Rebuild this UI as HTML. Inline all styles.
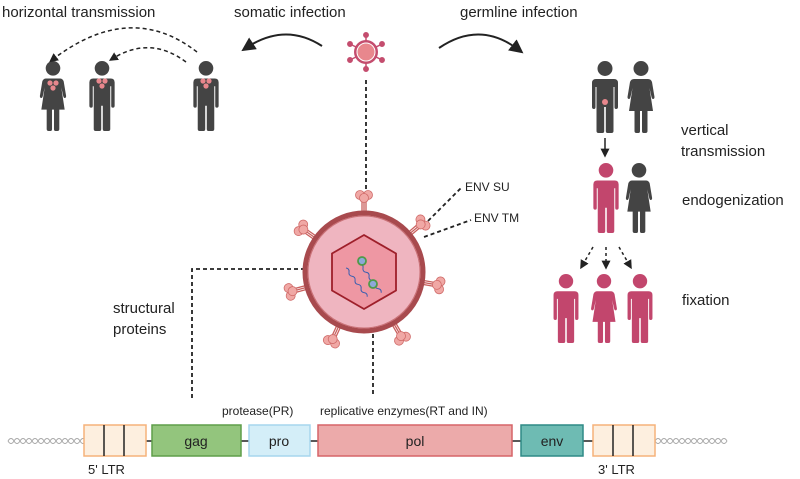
<!DOCTYPE html>
<html><head><meta charset="utf-8"><style>
html,body{margin:0;padding:0;background:#fff;}
svg{display:block;font-family:"Liberation Sans",sans-serif;}
</style></head><body>
<svg width="800" height="479" viewBox="0 0 800 479" xmlns="http://www.w3.org/2000/svg">
<defs>
<symbol id="male" viewBox="-13 0 26 72" overflow="visible">
  <circle cx="0" cy="7.5" r="7.5"/>
  <path d="M-9 18 H9 Q13 18 13 22 V46 Q13 48 11 48 Q9.5 48 9.5 46 V26 H8.5 V70 Q8.5 72 6.5 72 H2.5 Q0.8 72 0.8 70 V46 H-0.8 V70 Q-0.8 72 -2.5 72 H-6.5 Q-8.5 72 -8.5 70 V26 H-9.5 V46 Q-9.5 48 -11 48 Q-13 48 -13 46 V22 Q-13 18 -9 18Z"/>
</symbol>
<symbol id="female" viewBox="-13 0 26 72" overflow="visible">
  <circle cx="0" cy="7.5" r="7.5"/>
  <path d="M-7 18 H7 Q10 18 11 21 L13.5 36 Q13.5 38 12 38 Q11 38 10.5 36 L8.5 27 L12 50 H6.5 V70 Q6.5 72 4.5 72 H2.5 Q1 72 1 70 V50 H-1 V70 Q-1 72 -2.5 72 H-4.5 Q-6.5 72 -6.5 70 V50 H-12 L-8.5 27 L-10.5 36 Q-11 38 -12 38 Q-13.5 38 -13.5 36 L-11 21 Q-10 18 -7 18Z"/>
</symbol>
<marker id="ah" viewBox="0 0 10 10" refX="6" refY="5" markerWidth="7" markerHeight="7" orient="auto-start-reverse"><path d="M0 0 L10 5 L0 10 Z" fill="#222"/></marker>
<marker id="ahs" viewBox="0 0 10 10" refX="6" refY="5" markerWidth="6" markerHeight="6" orient="auto"><path d="M0 0 L10 5 L0 10 Z" fill="#222"/></marker>
<g id="spike">
  <line x1="-2" y1="6" x2="-2" y2="-11" stroke="#c9605e" stroke-width="1.3"/>
  <line x1="2" y1="6" x2="2" y2="-11" stroke="#c9605e" stroke-width="1.3"/>
  <line x1="0" y1="6" x2="0" y2="-11" stroke="#c9605e" stroke-width="1.3"/>
  <circle cx="-4" cy="-15" r="4.5" fill="#f0a8a5" stroke="#d06b69" stroke-width="0.8"/>
  <circle cx="4" cy="-15" r="4.5" fill="#f0a8a5" stroke="#d06b69" stroke-width="0.8"/>
  <circle cx="0" cy="-12" r="4.5" fill="#f0a8a5" stroke="#d06b69" stroke-width="0.8"/>
</g>
</defs>

<g font-size="15" fill="#222">
<text x="2" y="17">horizontal transmission</text>
<text x="234" y="17">somatic infection</text>
<text x="460" y="17">germline infection</text>
<text x="681" y="135">vertical</text>
<text x="681" y="156">transmission</text>
<text x="682" y="205">endogenization</text>
<text x="682" y="305">fixation</text>
<text x="113" y="313">structural</text>
<text x="113" y="334">proteins</text>
</g>
<g font-size="12" fill="#222">
<text x="465" y="191">ENV SU</text>
<text x="474" y="222">ENV TM</text>
<text x="222" y="415">protease(PR)</text>
<text x="320" y="415">replicative enzymes(RT and IN)</text>
<text x="88" y="474" font-size="13">5' LTR</text>
<text x="598" y="474" font-size="13">3' LTR</text>
</g>

<g fill="#444">
<use href="#female" x="40" y="61" width="26" height="70"/>
<use href="#male" x="89" y="61" width="26" height="70"/>
<use href="#male" x="193" y="61" width="26" height="70"/>
</g>
<g fill="#e8878d">
<circle cx="50" cy="83" r="2.6"/><circle cx="56" cy="83" r="2.6"/><circle cx="53" cy="88" r="2.6"/>
<circle cx="99" cy="81" r="2.6"/><circle cx="105" cy="81" r="2.6"/><circle cx="102" cy="86" r="2.6"/>
<circle cx="203" cy="81" r="2.6"/><circle cx="209" cy="81" r="2.6"/><circle cx="206" cy="86" r="2.6"/>
</g>
<g fill="none" stroke="#222" stroke-width="1.5" stroke-dasharray="4,3">
<path d="M197 52 Q130 0 52 60" marker-end="url(#ahs)"/>
<path d="M186 62 Q150 35 112 59" marker-end="url(#ahs)"/>
</g>
<path d="M322 46 Q285 22 246 48" fill="none" stroke="#222" stroke-width="2" marker-end="url(#ah)"/>
<path d="M439 48 Q480 20 519 50" fill="none" stroke="#222" stroke-width="2" marker-end="url(#ah)"/>

<g transform="translate(366,52)">
<g stroke="#c44d6e" stroke-width="1.5" fill="#c44d6e">
<line x1="0" y1="-17" x2="0" y2="17"/><line x1="-16" y1="-8" x2="16" y2="8"/><line x1="-16" y1="8" x2="16" y2="-8"/>
<circle cx="0" cy="-17" r="2.2"/><circle cx="0" cy="17" r="2.2"/><circle cx="-16" cy="-8" r="2.2"/><circle cx="16" cy="8" r="2.2"/><circle cx="-16" cy="8" r="2.2"/><circle cx="16" cy="-8" r="2.2"/>
</g>
<circle r="12" fill="#c44d6e"/><circle r="9" fill="#e8878d" stroke="#fff" stroke-width="1"/>
</g>

<g fill="none" stroke="#222" stroke-width="1.8" stroke-dasharray="4,3">
<line x1="366" y1="80" x2="366" y2="192"/>
<polyline points="333,269 192,269 192,398"/>
<line x1="373" y1="285" x2="373" y2="396"/>
<line x1="428" y1="221" x2="462" y2="187"/>
<line x1="424" y1="237" x2="471" y2="220"/>
</g>

<g transform="translate(364,272)">
<g transform="rotate(0)"><use href="#spike" y="-62"/></g>
<g transform="rotate(50)"><use href="#spike" y="-62"/></g>
<g transform="rotate(100)"><use href="#spike" y="-62"/></g>
<g transform="rotate(150)"><use href="#spike" y="-62"/></g>
<g transform="rotate(205)"><use href="#spike" y="-62"/></g>
<g transform="rotate(255)"><use href="#spike" y="-62"/></g>
<g transform="rotate(305)"><use href="#spike" y="-62"/></g>
<circle r="59" fill="#efb5c0" stroke="#a84a4e" stroke-width="5"/>
<circle r="56" fill="none" stroke="#c97076" stroke-width="1"/>
<polygon points="0,-37 32,-18.5 32,18.5 0,37 -32,18.5 -32,-18.5" fill="#ee97a3" stroke="#9e1f2a" stroke-width="1.8"/>
<path d="M-18 -4 q3 2 1 5 q-2 3 1 5 q3 2 1 5 q-2 3 1 5 q3 2 1 5 q-2 3 1 5 q3 2 1 5" fill="none" stroke="#3a5fb0" stroke-width="1" transform="rotate(-25 -18 -4)"/>
<path d="M-4 -8 q3 2 1 5 q-2 3 1 5 q3 2 1 5 q-2 3 1 5 q3 2 1 5 q-2 3 1 5 q3 2 1 5" fill="none" stroke="#3a5fb0" stroke-width="1" transform="rotate(-25 -4 -8)"/>
<circle cx="-2" cy="-11" r="4" fill="#8da8d8" stroke="#4f9a48" stroke-width="1.8"/>
<circle cx="9" cy="12" r="4" fill="#8da8d8" stroke="#4f9a48" stroke-width="1.8"/>
</g>

<g fill="#444">
<use href="#male" x="592" y="61" width="26" height="72"/>
<use href="#female" x="628" y="61" width="26" height="72"/>
<use href="#female" x="626" y="163" width="26" height="70"/>
</g>
<circle cx="605" cy="102" r="3" fill="#e8878d"/>
<line x1="605" y1="138" x2="605" y2="154" stroke="#222" stroke-width="1.5" marker-end="url(#ahs)"/>
<g fill="#c2466d">
<use href="#male" x="593" y="163" width="26" height="70"/>
<use href="#male" x="553" y="274" width="26" height="69"/>
<use href="#female" x="591" y="274" width="26" height="69"/>
<use href="#male" x="627" y="274" width="26" height="69"/>
</g>
<g fill="none" stroke="#222" stroke-width="1.5" stroke-dasharray="3,3">
<line x1="593" y1="247" x2="582" y2="266" marker-end="url(#ahs)"/>
<line x1="606" y1="247" x2="606" y2="266" marker-end="url(#ahs)"/>
<line x1="619" y1="247" x2="630" y2="266" marker-end="url(#ahs)"/>
</g>

<g fill="none" stroke="#aaa" stroke-width="1">
<path d="M8 441 q3 -5 6 0 q3 5 6 0 q3 -5 6 0 q3 5 6 0 q3 -5 6 0 q3 5 6 0 q3 -5 6 0 q3 5 6 0 q3 -5 6 0 q3 5 6 0 q3 -5 6 0 q3 5 6 0 q3 -5 6 0"/>
<path d="M8 441 q3 5 6 0 q3 -5 6 0 q3 5 6 0 q3 -5 6 0 q3 5 6 0 q3 -5 6 0 q3 5 6 0 q3 -5 6 0 q3 5 6 0 q3 -5 6 0 q3 5 6 0 q3 -5 6 0 q3 5 6 0"/>
<path d="M655 441 q3 -5 6 0 q3 5 6 0 q3 -5 6 0 q3 5 6 0 q3 -5 6 0 q3 5 6 0 q3 -5 6 0 q3 5 6 0 q3 -5 6 0 q3 5 6 0 q3 -5 6 0 q3 5 6 0"/>
<path d="M655 441 q3 5 6 0 q3 -5 6 0 q3 5 6 0 q3 -5 6 0 q3 5 6 0 q3 -5 6 0 q3 5 6 0 q3 -5 6 0 q3 5 6 0 q3 -5 6 0 q3 5 6 0 q3 -5 6 0"/>
</g>
<line x1="146" y1="441" x2="593" y2="441" stroke="#222" stroke-width="1.5"/>
<rect x="84" y="425" width="62" height="31" fill="#fdefdf" stroke="#f5b27a" stroke-width="1.5"/>
<line x1="104" y1="425" x2="104" y2="456" stroke="#222" stroke-width="1.5"/><line x1="124" y1="425" x2="124" y2="456" stroke="#222" stroke-width="1.5"/>
<rect x="593" y="425" width="62" height="31" fill="#fdefdf" stroke="#f5b27a" stroke-width="1.5"/>
<line x1="613" y1="425" x2="613" y2="456" stroke="#222" stroke-width="1.5"/><line x1="633" y1="425" x2="633" y2="456" stroke="#222" stroke-width="1.5"/>
<rect x="152" y="425" width="89" height="31" fill="#93c57d" stroke="#5f9e4a" stroke-width="1.5"/>
<rect x="249" y="425" width="61" height="31" fill="#d4eef8" stroke="#a6d6ee" stroke-width="1.5"/>
<rect x="318" y="425" width="194" height="31" fill="#ecaaaa" stroke="#d66468" stroke-width="1.5"/>
<rect x="521" y="425" width="62" height="31" fill="#6ebbb3" stroke="#2f8a86" stroke-width="1.5"/>
<g font-size="14" fill="#222" text-anchor="middle">
<text x="196" y="446">gag</text><text x="279" y="446">pro</text><text x="415" y="446">pol</text><text x="552" y="446">env</text>
</g>
</svg>
</body></html>
